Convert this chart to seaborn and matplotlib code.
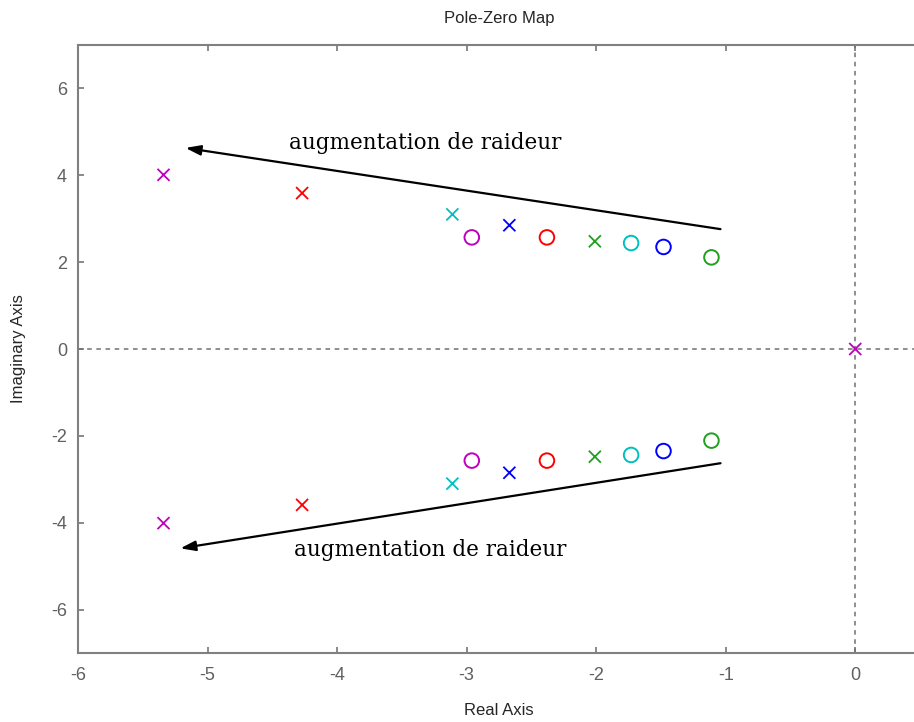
import matplotlib
matplotlib.use("Agg")
import matplotlib.pyplot as plt
import seaborn as sns
import pandas as pd
import numpy as np

# ---- data ----
systems = ["m", "r", "c", "b", "g"]
pole_real = [-5.34, -4.27, -3.11, -2.67, -2.01]
pole_imag = [4.01, 3.59, 3.10, 2.85, 2.48]
zero_real = [-2.96, -2.38, -1.73, -1.48, -1.11]
zero_imag = [2.57, 2.57, 2.44, 2.35, 2.11]
origin_real = [0.0]
origin_imag = [0.0]
origin_system = ["m"]

palette = {"m": "#bf00bf", "r": "#ff0000", "c": "#00bfbf", "b": "#0000ff", "g": "#1fa01f"}

arrow_upper = [(-1.04, 2.76), (-5.17, 4.63)]
arrow_lower = [(-1.04, -2.63), (-5.21, -4.59)]
label_text = "augmentation de raideur"
label_upper_pos = (-3.32, 4.75)
label_lower_pos = (-3.28, -4.63)

x_ticks = [-6, -5, -4, -3, -2, -1, 0]
y_ticks = [-6, -4, -2, 0, 2, 4, 6]

# ---- tables ----
poles = pd.DataFrame({
    "real": pole_real + pole_real + origin_real,
    "imag": pole_imag + [-v for v in pole_imag] + origin_imag,
    "system": systems + systems + origin_system,
})
zeros = pd.DataFrame({
    "real": zero_real + zero_real,
    "imag": zero_imag + [-v for v in zero_imag],
    "system": systems + systems,
})

sns.set_style("white")
plt.rcParams["font.family"] = ["Liberation Sans", "DejaVu Sans"]

fig = plt.figure(figsize=(9.14, 7.22), dpi=100)
ax = fig.add_axes([78 / 914, 69 / 722, 842 / 914, 608 / 722])

ax.axhline(0, color="#707070", ls=(0, (3, 3)), lw=1.1, zorder=1)
ax.axvline(0, color="#707070", ls=(0, (3, 3)), lw=1.1, zorder=1)

sns.scatterplot(data=poles, x="real", y="imag", hue="system", palette=palette,
                marker="x", s=75, linewidth=1.3, legend=False, ax=ax, zorder=3)
sns.scatterplot(data=zeros, x="real", y="imag", hue="system", palette=palette,
                marker="o", s=110, linewidth=1.4, legend=False, ax=ax, zorder=3)
coll = ax.collections[-1]
fc = coll.get_facecolors()
coll.set_edgecolors(fc)
coll.set_facecolors("none")

for (start, end) in (arrow_upper, arrow_lower):
    ax.annotate("", xy=end, xytext=start,
                arrowprops=dict(arrowstyle="-|>,head_length=0.9,head_width=0.3",
                                color="black", lw=1.6, shrinkA=0, shrinkB=0))

for pos in (label_upper_pos, label_lower_pos):
    ax.text(pos[0], pos[1], label_text, ha="center", va="center",
            fontsize=15.5, family=["DejaVu Serif", "Liberation Serif"], color="black")

ax.set_xlim(-6, 0.5)
ax.set_ylim(-7, 7)
ax.set_xticks(x_ticks)
ax.set_yticks(y_ticks)
ax.set_xticklabels([str(t) for t in x_ticks])
ax.set_yticklabels([str(t) for t in y_ticks])

for sp in ax.spines.values():
    sp.set_color("#808080")
    sp.set_linewidth(1.5)
ax.tick_params(axis="both", direction="in", length=4.5, width=1.3, color="#808080",
               labelcolor="#606060", labelsize=13, top=True, right=False,
               bottom=True, left=True)
ax.tick_params(axis="x", pad=10)
ax.tick_params(axis="y", pad=8)

ax.set_xlabel("Real Axis", fontsize=12, labelpad=14)
ax.set_ylabel("Imaginary Axis", fontsize=12, labelpad=18)
ax.set_title("Pole-Zero Map", fontsize=12, pad=16)

fig.savefig("out.png", dpi=100)
